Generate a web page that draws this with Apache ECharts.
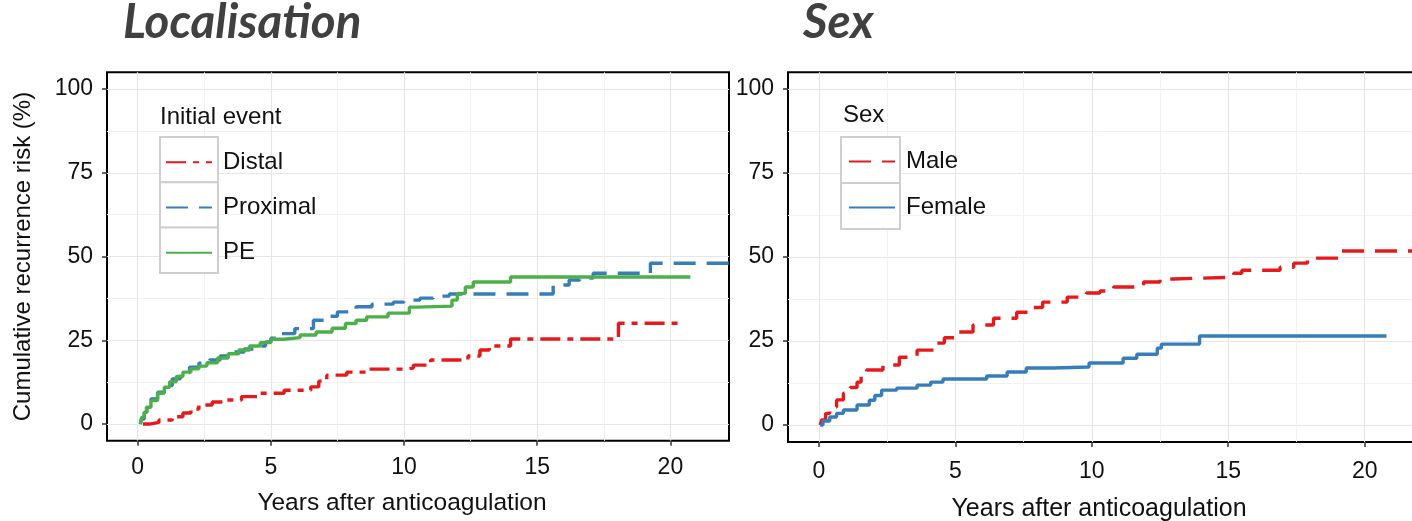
<!DOCTYPE html>
<html><head><meta charset="utf-8">
<script src="https://cdn.jsdelivr.net/npm/echarts@6/dist/echarts.min.js"></script>
<style>html,body{margin:0;padding:0;background:#fff}#c{width:1412px;height:521px}</style>
</head><body><div id="c"></div>
<script>
// ---------- data ----------
const panelTitles = ['Localisation', 'Sex'];
const legendTitles = ['Initial event', 'Sex'];
const xTicks = [0, 5, 10, 15, 20];
const yTicks = [0, 25, 50, 75, 100];
const yMinorTicks = [12.5, 37.5, 62.5, 87.5];
const xName = 'Years after anticoagulation';
const yName = 'Cumulative recurrence risk (%)';

const distal = [[0.2,0],[0.45,0.5],[0.8,1.2],[1.3,2.2],[1.7,3.3],[2.0,4.5],[2.3,5.7],[2.8,6.6],[3.2,7.2],[3.9,8.2],[4.5,9.2],[5.5,10.1],[6.5,11.1],[6.8,12.8],[7.1,14.6],[7.85,15.5],[8.6,16.4],[10.1,16.7],[10.35,17.6],[11.0,19.1],[12.4,20.3],[12.85,22.1],[13.2,23.3],[14.0,25.4],[18.05,30.1],[20.3,30.1]];
const proximal = [[0.1,0],[0.15,1.5],[0.25,3.5],[0.35,5.5],[0.5,7.5],[0.75,9.5],[1.0,11.5],[1.3,13.5],[1.6,15.3],[1.95,17],[2.3,18.2],[2.7,19.1],[3.1,20.3],[3.6,21.5],[4.0,22.4],[4.5,23.3],[4.8,24.5],[5.0,25.6],[5.4,27],[5.9,28.5],[6.6,31],[7.0,32.2],[7.5,33.5],[8.2,35],[8.8,35.8],[9.6,36.4],[10.0,37.0],[10.6,37.6],[11.1,38.2],[11.7,38.8],[15.6,41.5],[16.2,43],[16.6,43.6],[17.1,45],[19.25,48],[22.2,48]];
const pe = [[0.1,0],[0.15,2],[0.25,3.5],[0.33,5],[0.5,7],[0.75,9.2],[1.0,11],[1.2,12.6],[1.45,14.2],[1.7,15.5],[2.0,16.5],[2.3,17.3],[2.6,18.3],[3.0,19.7],[3.4,21],[3.8,22.1],[4.2,23.3],[4.6,24.3],[5.0,25.3],[5.5,25.8],[6.1,26.6],[6.7,27.5],[7.3,28.6],[7.8,30.0],[8.2,31.0],[8.6,32],[9.4,33.1],[10.2,34.9],[10.5,35.2],[11.8,37],[12.0,39],[12.3,40.9],[12.6,42.4],[14.0,43.9],[20.75,43.9]];
const male = [[0.05,0],[0.1,1.5],[0.25,3.5],[0.4,5.4],[0.65,7.5],[0.9,9.5],[1.15,11.2],[1.4,12.8],[1.55,14.5],[1.75,16.4],[2.35,17.9],[2.95,20.2],[3.6,22.3],[4.2,24.4],[4.6,26],[5.05,27.7],[5.65,29.8],[6.4,31.8],[7.25,33.6],[7.7,35],[8.2,36.6],[9.1,38.1],[9.8,39.3],[10.3,39.9],[10.8,41.1],[11.9,42.6],[12.5,43.5],[13.0,44.0],[15.2,45.2],[15.5,46.1],[16.9,47.0],[17.4,48.2],[17.9,49.7],[19.1,51.8],[22.3,51.8]];
const female = [[0.05,0],[0.15,1.2],[0.4,2.4],[0.65,3.5],[0.9,4.5],[1.4,6.0],[1.85,7.4],[2.05,8.8],[2.3,10.4],[2.85,11.0],[3.6,11.9],[4.1,12.8],[4.55,13.7],[6.15,14.6],[6.9,15.8],[7.6,17.0],[8.6,17.3],[9.9,18.5],[11.15,19.9],[11.65,21.1],[12.4,22.9],[12.55,24.1],[13.95,26.5],[20.8,26.5]];

// ---------- styling ----------
const RED = '#E41A1C', BLUE = '#377EB8', GREEN = '#4DAF4A';
const FONT = 'Liberation Sans, Arial, sans-serif';
const TFONT = 'Lato, Open Sans, sans-serif';
const grids = [
  {left: 107, top: 72.3, width: 622, height: 368.5, xMin: -1.15, xMax: 22.2, xGap: 50, xMargin: 15, namePad: 32, nameSize: 24.5},
  {left: 788, top: 72.3, width: 640, height: 369.6, xMin: -1.13, xMax: 22.32, xGap: 55, xMargin: 18, namePad: 18, nameSize: 25}
];

const chart = echarts.init(document.getElementById('c'), null, {renderer: 'canvas'});

const xAxes = [], yAxes = [];
grids.forEach((g, i) => {
  xAxes.push({
    type: 'value', gridIndex: i, min: g.xMin, max: g.xMax,
    name: xName, nameLocation: 'middle', nameGap: g.xGap,
    nameTextStyle: {fontFamily: FONT, fontSize: g.nameSize, color: '#111', padding: [0, g.namePad, 0, 0]},
    axisLine: {show: false, onZero: false},
    axisTick: {show: true, length: 5, customValues: xTicks, lineStyle: {color: '#333', width: 1.5}},
    axisLabel: {customValues: xTicks, margin: g.xMargin, fontFamily: FONT, fontSize: 23, color: '#111'},
    splitLine: {show: true, lineStyle: {color: '#e6e6e6', width: 1.2}},
    minorTick: {show: false, splitNumber: 2},
    minorSplitLine: {show: true, lineStyle: {color: '#f2f2f2', width: 1}}
  });
  yAxes.push({
    type: 'value', gridIndex: i, min: -5, max: 105, position: 'left',
    name: i === 0 ? yName : '', nameLocation: 'middle', nameGap: 72, nameRotate: 90,
    nameTextStyle: {fontFamily: FONT, fontSize: 24, color: '#111'},
    axisLine: {show: false, onZero: false},
    axisTick: {show: true, length: 5, customValues: yTicks, lineStyle: {color: '#333', width: 1.5}},
    axisLabel: {customValues: yTicks, margin: 14, fontFamily: FONT, fontSize: 23, color: '#111'},
    splitLine: {show: true, lineStyle: {color: '#e6e6e6', width: 1.2}}
  });
  yAxes.push({
    type: 'value', gridIndex: i, min: -5, max: 105, position: 'right',
    axisLine: {show: false, onZero: false}, axisLabel: {show: false},
    axisTick: {show: false, customValues: yMinorTicks},
    splitLine: {show: true, lineStyle: {color: '#f2f2f2', width: 1}}
  });
});

function mk(name, data, color, dash, gi) {
  return {
    name, type: 'line', step: 'end', data, xAxisIndex: gi, yAxisIndex: gi * 2,
    symbol: 'none', showSymbol: false, color, z: 3,
    lineStyle: {color, width: 3.4, type: dash, cap: 'butt'},
    itemStyle: {color}
  };
}

const series = [
  mk('Distal', distal, RED, [20, 7, 6, 7], 0),
  mk('Proximal', proximal, BLUE, [22, 11], 0),
  mk('PE', pe, GREEN, 'solid', 0),
  mk('Male', male, RED, [22, 11], 1),
  mk('Female', female, BLUE, 'solid', 1)
];

const legendCfg = [
  {names: ['Distal', 'Proximal', 'PE'], left: 165, top: 137, rowH: 45.3, shift: -2.5, boxL: 160, boxW: 58, titleL: 160, titleT: 105},
  {names: ['Male', 'Female'], left: 848, top: 137, rowH: 46, shift: -3.5, boxL: 841, boxW: 59, titleL: 843, titleT: 103}
];

const ICON_H = 14;
const legends = [];
const graphics = [];
legendCfg.forEach(l => {
  l.names.forEach((n, k) => {
    legends.push({
      data: [n], orient: 'vertical', left: l.left, top: l.top + k * l.rowH + (l.rowH - ICON_H) / 2 + l.shift, padding: 0,
      itemWidth: 46, itemHeight: ICON_H, itemGap: 0, selectedMode: false,
      itemStyle: {opacity: 0, borderWidth: 0},
      textStyle: {fontFamily: FONT, fontSize: 24, color: '#111', padding: [0, 0, 0, 6]}
    });
    graphics.push({type: 'rect', z: 3, silent: true,
      shape: {x: l.boxL, y: l.top + k * l.rowH, width: l.boxW, height: l.rowH},
      style: {fill: '#fff', stroke: '#cfcfcf', lineWidth: 2}});
  });
});

const titles = [
  {text: panelTitles[0], left: 123, top: -1, padding: 0, textStyle: {fontFamily: TFONT, fontStyle: 'italic', fontWeight: 'bold', fontSize: 47.5, color: '#404040'}},
  {text: panelTitles[1], left: 803, top: -1, padding: 0, textStyle: {fontFamily: TFONT, fontStyle: 'italic', fontWeight: 'bold', fontSize: 47.5, color: '#404040'}},
  {text: legendTitles[0], left: legendCfg[0].titleL, top: legendCfg[0].titleT, padding: 0, textStyle: {fontFamily: FONT, fontSize: 24, fontWeight: 'normal', color: '#111'}},
  {text: legendTitles[1], left: legendCfg[1].titleL, top: legendCfg[1].titleT, padding: 0, textStyle: {fontFamily: FONT, fontSize: 24, fontWeight: 'normal', color: '#111'}}
];

chart.setOption({
  animation: false,
  backgroundColor: '#fff',
  title: titles,
  grid: grids.map(g => ({left: g.left, top: g.top, width: g.width, height: g.height, show: true, borderColor: '#000', borderWidth: 2, backgroundColor: 'transparent', containLabel: false, outerBoundsMode: 'none'})),
  xAxis: xAxes,
  yAxis: yAxes,
  legend: legends,
  graphic: graphics,
  series
});
</script></body></html>
